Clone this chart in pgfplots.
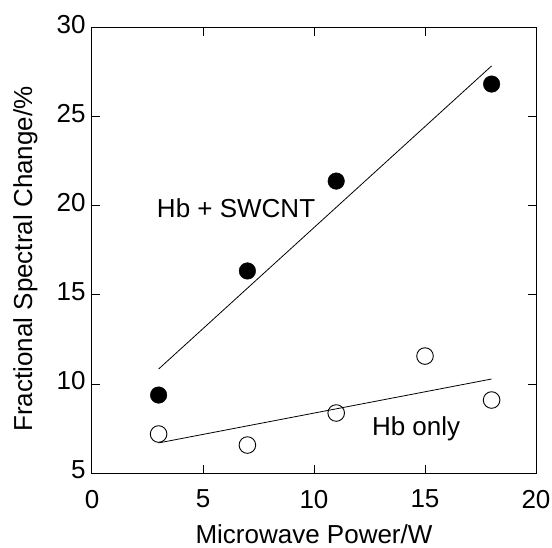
\documentclass[border=0pt]{standalone}
\usepackage{pgfplots}
\pgfplotsset{compat=1.18}
\usepackage{fontspec}
\setmainfont{Liberation Sans}
\begin{document}
\fontsize{26bp}{30bp}\selectfont
\begin{tikzpicture}
\useasboundingbox (-92bp,-75bp) rectangle (460bp,473bp);
\begin{axis}[
    scale only axis,
    width=444bp, height=445bp,
    xmin=0, xmax=20, ymin=5, ymax=30,
    xtick={0,5,10,15,20},
    ytick={5,10,15,20,25,30},
    tick align=inside,
    xtick pos=both, ytick pos=both,
    major tick length=8bp,
    axis line style={line width=1bp},
    every tick/.style={line width=1bp, black},
    tick label style={font=\fontsize{26bp}{30bp}\selectfont},
    /pgf/number format/assume math mode=true,
    xticklabel style={yshift=-8bp},
    yticklabel style={xshift=2.5bp, yshift=3bp},
    label style={font=\fontsize{26bp}{30bp}\selectfont},
    xlabel={Microwave Power/W},
    ylabel={Fractional Spectral Change/\%},
    xlabel style={at={(axis description cs:0.5,-0.158)}, anchor=base},
    ylabel style={at={(axis description cs:-0.135,0.481)}, anchor=base},
    clip=false,
]
% Hb + SWCNT
\addplot[only marks, mark=*, mark size=8.3bp, mark options={fill=black, draw=black}]
    coordinates {(3,9.38) (7,16.35) (11,21.4) (18,26.85)};
\addplot[line width=0.8bp, black] coordinates {(3,10.84) (18,27.87)};
% Hb only
\addplot[only marks, mark=o, mark size=8.3bp, mark options={draw=black, line width=0.9bp, fill=white}]
    coordinates {(3,7.19) (7,6.57) (11,8.37) (15,11.57) (18,9.1)};
\addplot[line width=0.8bp, black] coordinates {(3,6.69) (18,10.28)};
\node[anchor=base] at (axis cs:6.49,19.38) {Hb + SWCNT};
\node[anchor=base] at (axis cs:14.6,7.08) {Hb only};
\end{axis}
\end{tikzpicture}
\end{document}
